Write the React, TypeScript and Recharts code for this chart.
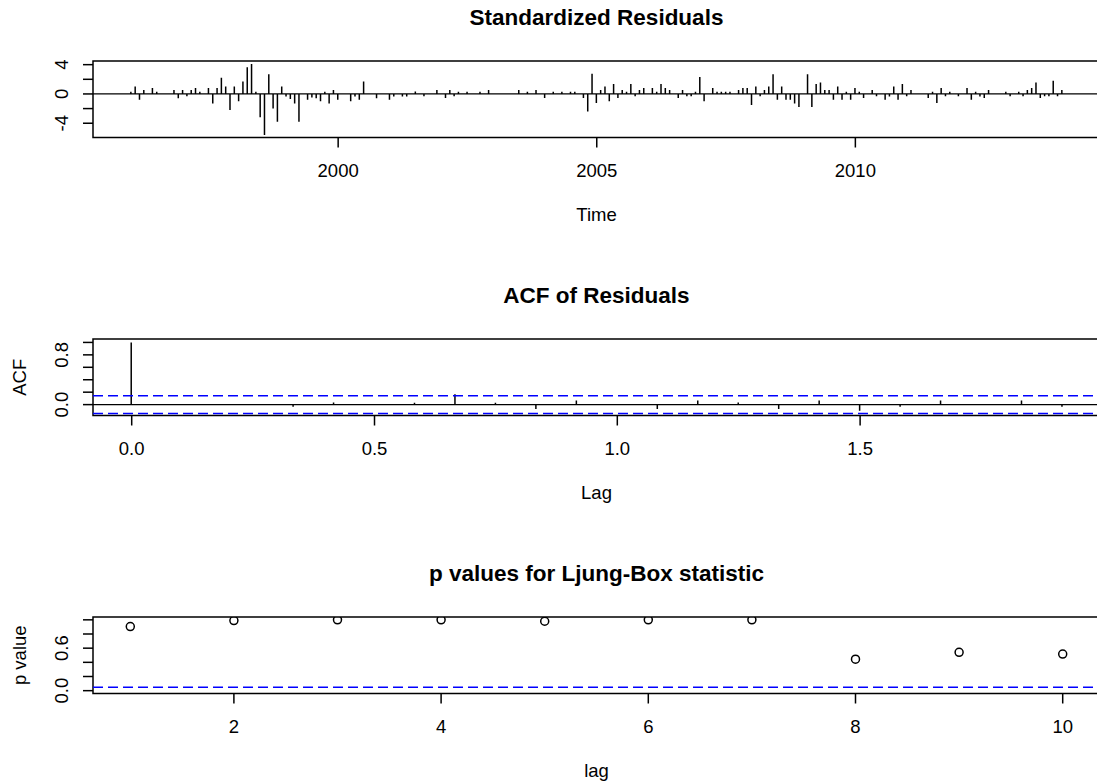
import React from "react";
import {
  ComposedChart,
  Bar,
  Scatter,
  XAxis,
  YAxis,
  ReferenceLine,
  ReferenceArea,
} from "recharts";

// standardized residuals, monthly from Jan 1996 (month index, value); unlisted months ~0
const resStartYear = 1996;
const resMonths = [
  0, 1, 2, 3, 5, 6, 10, 11, 12, 13, 14, 15, 16, 18, 19, 20, 21, 22, 23, 24, 25, 26, 27, 28, 29,
  30, 31, 32, 33, 34, 35, 36, 37, 38, 39, 41, 42, 43, 44, 45, 46, 47, 48, 51, 52, 53, 54, 57,
  60, 61, 63, 64, 66, 68, 71, 73, 74, 75, 76, 78, 81, 83, 90, 92, 94, 96, 98, 100, 102, 103,
  105, 106, 107, 108, 109, 110, 111, 112, 113, 114, 115, 116, 117, 118, 119, 121, 122, 123,
  124, 125, 127, 128, 129, 130, 131, 132, 133, 135, 136, 137, 138, 139, 141, 142, 143, 144,
  145, 146, 147, 148, 149, 150, 151, 152, 153, 154, 155, 157, 158, 159, 160, 161, 162, 163,
  164, 165, 166, 167, 168, 169, 170, 172, 173, 175, 176, 177, 178, 179, 180, 181, 185, 186,
  187, 188, 189, 190, 192, 194, 195, 196, 197, 198, 199, 203, 204, 206, 207, 208, 209, 210,
  211, 212, 213, 214, 215, 216,
];
const resValues = [
  0.3, 1.0, -0.8, 0.55, 0.8, 0.3, 0.55, -0.6, 0.55, -0.3, 0.55, 0.8, 0.3, 0.8, -1.3, 0.8, 2.2,
  1.0, -2.2, 1.0, -1.0, 1.7, 3.65, 4.1, 0.3, -3.2, -5.6, 2.7, -2.0, -3.8, 1.0, -0.35, -0.7,
  -1.3, -3.8, -0.8, -0.5, -0.6, -1.0, 0.3, -1.3, 0.55, -0.8, -1.0, -0.35, -0.8, 1.7, -0.6,
  -0.8, -0.35, -0.35, -0.35, 0.35, -0.3, 0.55, -0.55, 0.55, -0.3, 0.3, 0.3, 0.3, 0.55, 0.55,
  0.3, 0.55, -0.55, 0.3, 0.3, 0.3, 0.3, -0.55, -2.4, 2.75, -1.25, 0.55, 1.0, -1.0, 1.35,
  -0.55, 0.55, 0.3, 1.35, -0.3, 0.55, 0.8, 0.8, 0.3, 1.35, 0.8, 0.55, -0.55, 0.55, -0.3,
  -0.3, 0.3, 2.3, -1.0, 0.8, 0.3, 0.3, 0.3, 0.3, 0.55, 0.8, 0.8, -1.5, 1.0, -0.3, 0.55, 1.0,
  2.7, -0.8, 1.0, -0.8, -0.8, -1.3, -1.8, 2.7, -1.8, 1.35, 1.55, 0.55, 0.55, -0.8, 1.0, -0.8,
  0.3, -0.8, 0.8, 0.3, -0.55, 0.55, -0.3, -0.8, -0.35, 1.0, -0.8, 1.35, -0.3, 0.55, -0.55,
  0.3, -1.25, 0.8, -0.3, 0.3, -0.3, 0.8, -0.8, 0.3, -0.35, -0.55, 0.55, 0.3, -0.3, 0.3, -0.3,
  0.55, 0.8, 1.55, -0.55, -0.3, -0.3, 1.8, -0.3, 0.55,
];
const resXTicks = [2000, 2005, 2010];
const resYTicks = [-4, -2, 0, 2, 4];
const resYLabels = [-4, 0, 4];

// ACF of residuals, lags 0..23 months
const acfValues = [
  1.0, 0, 0, 0, -0.033, 0.033, 0, 0.03, 0.165, 0.03, -0.07, 0.066, 0, -0.07, 0.066, 0.033,
  -0.07, 0.066, -0.1, -0.033, 0.066, 0, 0.066, -0.033,
];
const acfBound = 0.142;
const acfXTicks = [0, 0.5, 1, 1.5];
const acfYTicks = [0, 0.2, 0.4, 0.6, 0.8, 1];
const acfYLabels = [0, 0.8];

// Ljung-Box p values
const lbLags = [1, 2, 3, 4, 5, 6, 7, 8, 9, 10];
const lbPValues = [0.905, 0.99, 1.0, 1.0, 0.98, 1.0, 1.0, 0.444, 0.541, 0.517];
const lbLevel = 0.05;
const lbXTicks = [2, 4, 6, 8, 10];
const lbYTicks = [0, 0.2, 0.4, 0.6, 0.8, 1];
const lbYLabels = [0, 0.6];

const FONT = '"Liberation Sans", Arial, sans-serif';
const W = 1130;
const RIGHT = 30; // plot right edge at 1100, just past the visible page
const PAD_TOP = 12;
const BOX_H = 76.5;
const AXIS_H = 60;
const LEFT = 93;
const CX = (LEFT + W - RIGHT) / 2;
const TOPS = [61, 339, 617];
const FRAME = { stroke: "#000", strokeWidth: 1.5 };

function XTick(props: any) {
  const { x, y, payload, fmt } = props;
  return (
    <text x={x} y={y + 23} textAnchor="middle" dominantBaseline="central" fontSize={18.5} fontFamily={FONT} fill="#000">
      {fmt(payload.value)}
    </text>
  );
}

function YTick(props: any) {
  const { x, y, payload, labels, fmt } = props;
  if (!labels.includes(payload.value)) return <g />;
  const cx = x - 21;
  return (
    <text x={cx} y={y} transform={`rotate(-90 ${cx} ${y})`} textAnchor="middle" dominantBaseline="central" fontSize={18.5} fontFamily={FONT} fill="#000">
      {fmt(payload.value)}
    </text>
  );
}

function Panel(props: any) {
  const { top, data, xDomain, yDomain, xTicks, yTicks, yLabels, xFmt, yFmt, children } = props;
  const H = PAD_TOP + BOX_H + AXIS_H;
  return (
    <div style={{ position: "absolute", left: 0, top: top - PAD_TOP, width: W, height: H }}>
      <ComposedChart width={W} height={H} data={data} margin={{ top: PAD_TOP, right: RIGHT, bottom: 0, left: 0 }}>
        <XAxis
          dataKey="x"
          type="number"
          domain={xDomain}
          ticks={xTicks}
          interval={0}
          allowDataOverflow
          height={AXIS_H}
          tickSize={10}
          tickMargin={0}
          axisLine={false}
          tickLine={FRAME}
          tick={(p: any) => <XTick {...p} fmt={xFmt} />}
        />
        <YAxis
          type="number"
          domain={yDomain}
          ticks={yTicks}
          interval={0}
          allowDataOverflow
          width={LEFT}
          tickSize={10}
          tickMargin={0}
          axisLine={false}
          tickLine={FRAME}
          tick={(p: any) => <YTick {...p} labels={yLabels} fmt={yFmt} />}
        />
        {children}
        <ReferenceArea x1={xDomain[0]} x2={xDomain[1]} y1={yDomain[0]} y2={yDomain[1]} fill="none" {...FRAME} />
      </ComposedChart>
    </div>
  );
}

const resData = resMonths.map((m, i) => ({ x: resStartYear + m / 12, v: resValues[i] }));
const acfData = acfValues.map((v, k) => ({ x: k / 12, v }));
const lbData = lbLags.map((l, i) => ({ x: l, y: lbPValues[i] }));

export default function App() {
  const titles = ["Standardized Residuals", "ACF of Residuals", "p values for Ljung-Box statistic"];
  const xTitles = ["Time", "Lag", "lag"];
  const yTitles = ["", "ACF", "p value"];
  return (
    <div style={{ position: "absolute", left: 0, top: 0, width: 1097, height: 782, overflow: "hidden", background: "#fff" }}>
      <Panel
        top={TOPS[0]}
        data={resData}
        xDomain={[1995.26, 2014.73]}
        yDomain={[-5.95, 4.5]}
        xTicks={resXTicks}
        yTicks={resYTicks}
        yLabels={resYLabels}
        xFmt={(v: number) => String(v)}
        yFmt={(v: number) => String(v)}
      >
        <ReferenceLine y={0} stroke="#000" strokeWidth={1.3} />
        <Bar dataKey="v" fill="#000" barSize={1.5} isAnimationActive={false} />
      </Panel>
      <Panel
        top={TOPS[1]}
        data={acfData}
        xDomain={[-0.0797, 1.994]}
        yDomain={[-0.175, 1.055]}
        xTicks={acfXTicks}
        yTicks={acfYTicks}
        yLabels={acfYLabels}
        xFmt={(v: number) => v.toFixed(1)}
        yFmt={(v: number) => v.toFixed(1)}
      >
        <ReferenceLine y={0} stroke="#000" strokeWidth={1.3} />
        <ReferenceLine y={acfBound} stroke="#0000FF" strokeWidth={1.5} strokeDasharray="10 5" />
        <ReferenceLine y={-acfBound} stroke="#0000FF" strokeWidth={1.5} strokeDasharray="10 5" />
        <Bar dataKey="v" fill="#000" barSize={1.5} isAnimationActive={false} />
      </Panel>
      <Panel
        top={TOPS[2]}
        data={lbData}
        xDomain={[0.64, 10.36]}
        yDomain={[-0.04, 1.04]}
        xTicks={lbXTicks}
        yTicks={lbYTicks}
        yLabels={lbYLabels}
        xFmt={(v: number) => String(v)}
        yFmt={(v: number) => v.toFixed(1)}
      >
        <ReferenceLine y={lbLevel} stroke="#0000FF" strokeWidth={1.5} strokeDasharray="10 5" />
        <Scatter
          dataKey="y"
          isAnimationActive={false}
          shape={(p: any) => <circle cx={p.cx} cy={p.cy} r={4} fill="none" stroke="#000" strokeWidth={1.5} />}
        />
      </Panel>
      <svg width={1097} height={782} style={{ position: "absolute", left: 0, top: 0, pointerEvents: "none" }}>
        {TOPS.map((t, i) => (
          <g key={i} fontFamily={FONT} fill="#000">
            <text x={CX} y={t - 44} textAnchor="middle" dominantBaseline="central" fontSize={22.5} fontWeight="bold">
              {titles[i]}
            </text>
            <text x={CX} y={t + BOX_H + 77} textAnchor="middle" dominantBaseline="central" fontSize={18.5}>
              {xTitles[i]}
            </text>
            {yTitles[i] && (
              <text
                x={19}
                y={t + BOX_H / 2}
                transform={`rotate(-90 19 ${t + BOX_H / 2})`}
                textAnchor="middle"
                dominantBaseline="central"
                fontSize={18.5}
              >
                {yTitles[i]}
              </text>
            )}
          </g>
        ))}
      </svg>
    </div>
  );
}
